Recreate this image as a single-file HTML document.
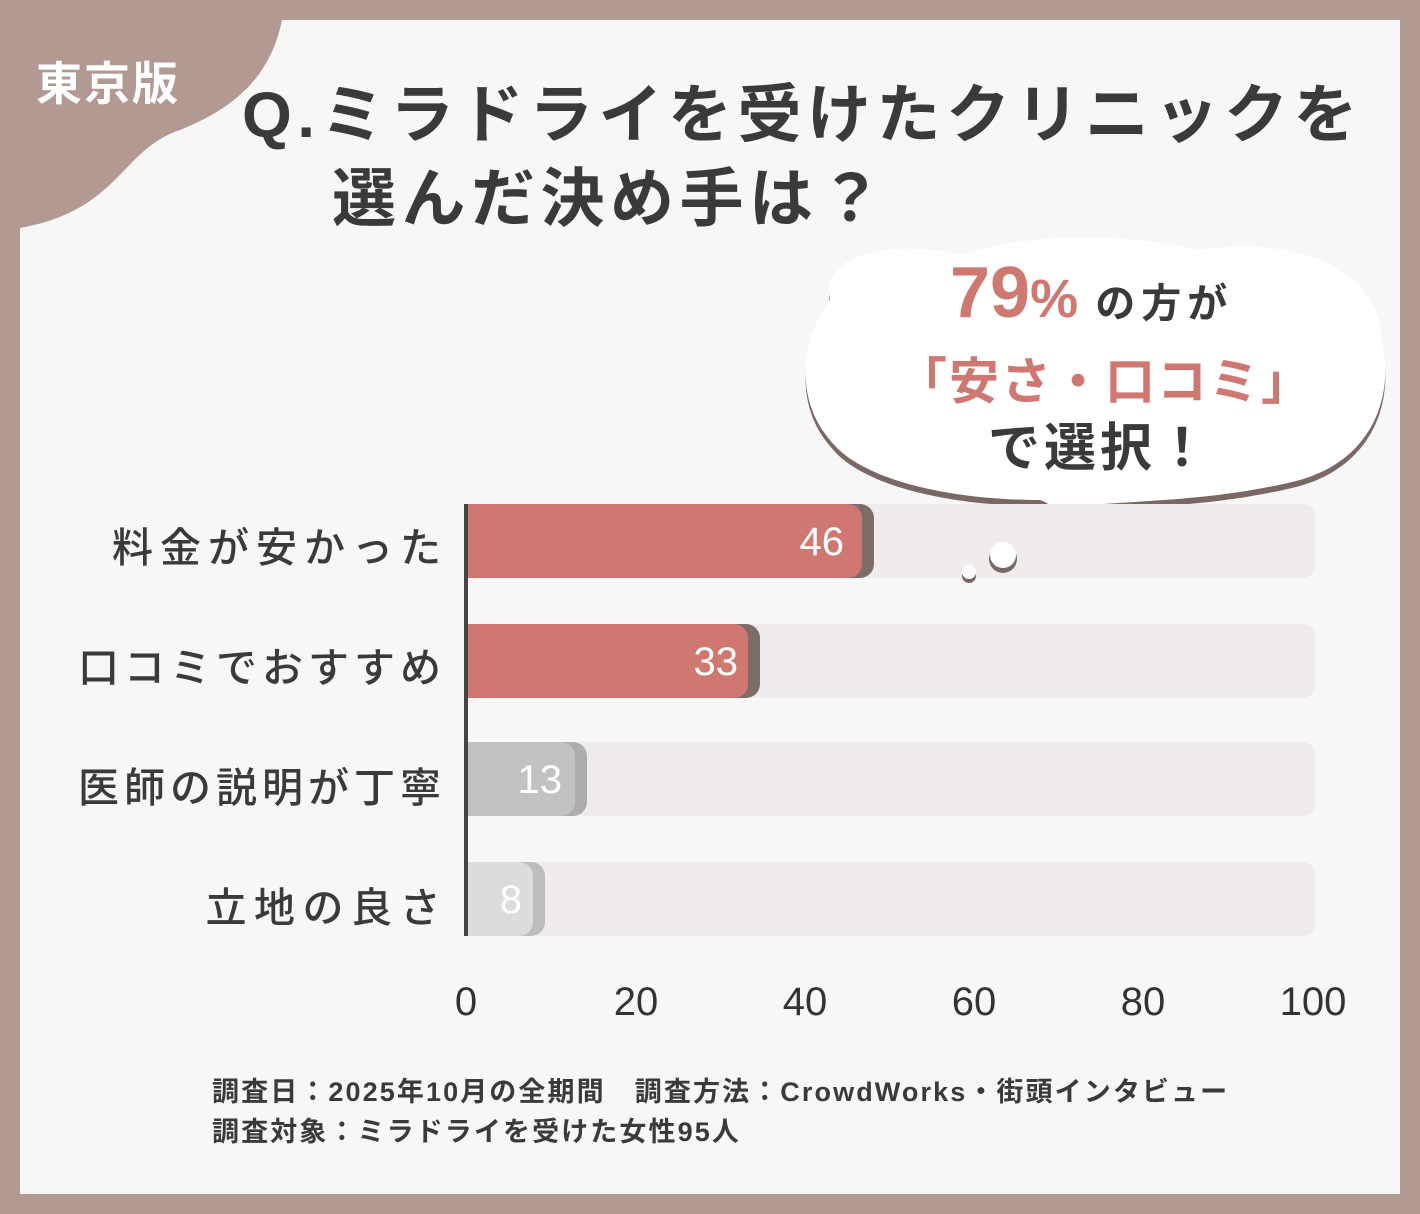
<!DOCTYPE html>
<html><head><meta charset="utf-8"><style>
body{margin:0;width:1420px;height:1214px;background:#b29a93;font-family:"Liberation Sans","Noto Sans CJK JP",sans-serif;overflow:hidden}
.card{position:absolute;left:20px;top:20px;width:1380px;height:1174px;background:#f8f7f7}
.t{position:absolute;white-space:nowrap}
.lbl{position:absolute;font-size:41px;color:#3a3a3a;font-weight:500;white-space:nowrap}
.track{position:absolute;left:468px;width:847px;height:74px;background:#efeceb;border-radius:0 12px 12px 0}
.bar{position:absolute;left:468px;height:74px;border-radius:0 14px 14px 0}
.val{position:absolute;color:#fff;font-size:40px;text-align:right}
.tick{position:absolute;top:980px;font-size:40px;color:#333;width:120px;text-align:center}
</style></head><body>
<div class="card"></div>
<svg style="position:absolute;left:0;top:0" width="1420" height="1214">
<path d="M20 20 H282 C270 80 230 110 180 130 C120 150 120 210 20 228 Z" fill="#b29a93"/>
<path d="M830 300 C820 250 900 240 960 255 C1040 230 1130 235 1200 250 C1300 235 1380 270 1382 340 C1395 400 1370 460 1300 480 C1220 500 1150 500 1090 505 C1075 520 1060 528 1052 530 C1058 515 1055 505 1040 500 C950 500 860 480 830 440 C795 400 800 340 830 300Z" fill="#7a6864" transform="translate(0,6)"/>
<path d="M830 300 C820 250 900 240 960 255 C1040 230 1130 235 1200 250 C1300 235 1380 270 1382 340 C1395 400 1370 460 1300 480 C1220 500 1150 500 1090 505 C1075 520 1060 528 1052 530 C1058 515 1055 505 1040 500 C950 500 860 480 830 440 C795 400 800 340 830 300Z" fill="#fff"/>
</svg>
<div class="t" style="left:36px;top:48px;font-size:46px;color:#fff;font-weight:700;letter-spacing:2px">東京版</div>
<div class="t" style="left:242px;top:64px;font-size:64px;color:#3a3a3a;font-weight:700;letter-spacing:5.5px">Q.ミラドライを受けたクリニックを</div>
<div class="t" style="left:332px;top:148px;font-size:64px;color:#3a3a3a;font-weight:700;letter-spacing:5.5px">選んだ決め手は？</div>
<div class="t" style="left:950px;top:252px;color:#cf7872;font-size:72px;font-weight:700">79<span style="font-size:54px">%</span><span style="font-size:40px;color:#3a3a3a;letter-spacing:6px"> の方が</span></div>
<div class="t" style="left:897px;top:342px;color:#cf7872;font-size:50px;font-weight:700;letter-spacing:2px">「安さ・口コミ」</div>
<div class="t" style="left:988px;top:406px;color:#3a3a3a;font-size:52px;font-weight:700;letter-spacing:4px">で選択！</div>

<div class="track" style="top:504px"></div>
<div class="track" style="top:624px"></div>
<div class="track" style="top:742px"></div>
<div class="track" style="top:862px"></div>
<div class="bar" style="top:504px;width:406px;background:#7d6c68"></div>
<div class="bar" style="top:504px;width:394px;background:#cf7872"></div>
<div class="bar" style="top:624px;width:292px;background:#7d6c68"></div>
<div class="bar" style="top:624px;width:280px;background:#cf7872"></div>
<div class="bar" style="top:742px;width:119px;background:#adadad"></div>
<div class="bar" style="top:742px;width:107px;background:#c4c2c1"></div>
<div class="bar" style="top:862px;width:77px;background:#bdbdbd"></div>
<div class="bar" style="top:862px;width:65px;background:#dcdcdc"></div>
<svg style="position:absolute;left:955px;top:540px" width="70" height="50"><circle cx="48" cy="19" r="14" fill="#7a6864"/><circle cx="48" cy="15" r="13" fill="#fff"/><circle cx="14" cy="36" r="7" fill="#7a6864"/><circle cx="14" cy="32" r="7" fill="#fff"/></svg>
<div style="position:absolute;left:464px;top:504px;width:4px;height:432px;background:#444"></div>
<div class="val" style="left:700px;width:144px;top:520px">46</div>
<div class="val" style="left:600px;width:138px;top:640px">33</div>
<div class="val" style="left:470px;width:92px;top:758px">13</div>
<div class="val" style="left:470px;width:52px;top:878px">8</div>

<div class="lbl" style="top:514px;right:972px;letter-spacing:7px">料金が安かった</div>
<div class="lbl" style="top:634px;right:974px;letter-spacing:5px">口コミでおすすめ</div>
<div class="lbl" style="top:754px;right:974px;letter-spacing:5px">医師の説明が丁寧</div>
<div class="lbl" style="top:874px;right:972px;letter-spacing:7.5px">立地の良さ</div>

<div class="tick" style="left:406px">0</div>
<div class="tick" style="left:576px">20</div>
<div class="tick" style="left:745px">40</div>
<div class="tick" style="left:914px">60</div>
<div class="tick" style="left:1083px">80</div>
<div class="tick" style="left:1253px">100</div>

<div class="t" style="left:212px;top:1070px;font-size:27px;color:#3a3a3a;font-weight:700;letter-spacing:2.1px">調査日：2025年10月の全期間　調査方法：CrowdWorks・街頭インタビュー</div>
<div class="t" style="left:212px;top:1110px;font-size:27px;color:#3a3a3a;font-weight:700;letter-spacing:2.1px">調査対象：ミラドライを受けた女性95人</div>
</body></html>
